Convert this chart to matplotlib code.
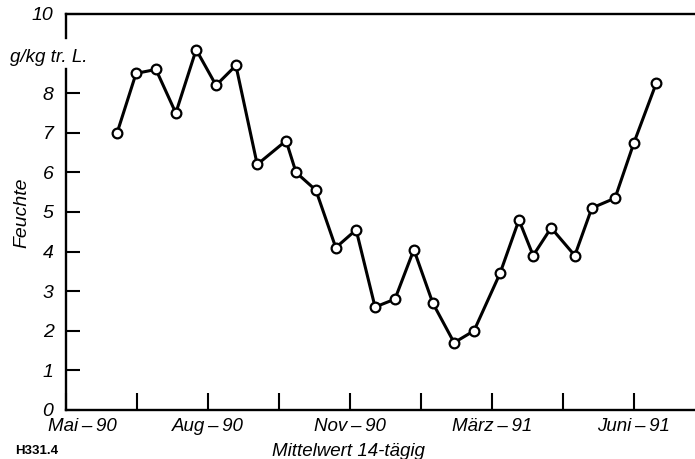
import numpy as np
import matplotlib.pyplot as plt

# x position in months after start of May 1990 (14-day means), y in g/kg tr. L.
months = [1.08, 1.48, 1.90, 2.32, 2.75, 3.17, 3.59, 4.04,
          4.65, 4.86, 5.28, 5.70, 6.13, 6.53, 6.95, 7.35,
          7.75, 8.20, 8.62, 9.17, 9.57, 9.87, 10.25, 10.75,
          11.11, 11.60, 12.00, 12.47]
feuchte = [7.0, 8.5, 8.6, 7.5, 9.1, 8.2, 8.7, 6.2,
           6.8, 6.0, 5.55, 4.1, 4.55, 2.6, 2.8, 4.05,
           2.7, 1.7, 2.0, 3.45, 4.8, 3.9, 4.6, 3.9,
           5.1, 5.35, 6.75, 8.25]

tick_pos = np.arange(0, 13.5, 1.5)
label_pos = [0.35, 3.0, 6.0, 9.0, 12.0]
labels = ["Mai\u2009\u2013\u200990", "Aug\u2009\u2013\u200990",
          "Nov\u2009\u2013\u200990", "M\u00e4rz\u2009\u2013\u200991",
          "Juni\u2009\u2013\u200991"]
y_ticks = [0, 1, 2, 3, 4, 5, 6, 7, 8, 10]

plt.rcParams["font.family"] = ["Liberation Sans", "DejaVu Sans"]

fig = plt.figure(figsize=(6.95, 4.59), dpi=100)
ax = fig.add_axes([66 / 695, 1 - 410 / 459, 1 - 66 / 695, 396 / 459])

ax.plot(months, feuchte, color="black", lw=2.2, marker="o", ms=7,
        mfc="white", mec="black", mew=1.6, zorder=3)

ax.set_xlim(0, 629 / 47.33)
ax.set_ylim(0, 10)

for s in ["left", "bottom", "top"]:
    ax.spines[s].set_linewidth(1.7)
ax.spines["right"].set_visible(False)

ax.set_xticks(tick_pos)
ax.set_xticklabels([])
ax.tick_params(axis="x", direction="in", length=12, width=1.5)
for p, t in zip(label_pos, labels):
    ax.text(p, -0.2, t, ha="center", va="top", fontsize=13.5, style="italic")

ax.set_yticks(y_ticks)
ax.set_yticklabels([str(v) for v in y_ticks], fontsize=14, style="italic")
ax.tick_params(axis="y", direction="in", length=10, width=1.5, pad=9)

# gap in the left spine for the unit label
ax.spines["left"].set_bounds(0, 8.6)
ax.plot([0, 0], [9.4, 10], color="black", lw=1.7, clip_on=False,
        transform=ax.get_yaxis_transform())
fig.text(10 / 695, 1 - 57 / 459, "g/kg tr. L.", ha="left", va="center",
         fontsize=13.5, style="italic")

fig.text(22 / 695, 1 - 213 / 459, "Feuchte", rotation=90, ha="center",
         va="center", fontsize=14, style="italic")
fig.text(348 / 695, 1 - 451 / 459, "Mittelwert 14-t\u00e4gig", ha="center",
         va="center", fontsize=13.5, style="italic")
fig.text(15 / 695, 1 - 451 / 459, "H331.4", ha="left", va="center",
         fontsize=9.5, weight="bold")

fig.savefig("out.png", dpi=100)
